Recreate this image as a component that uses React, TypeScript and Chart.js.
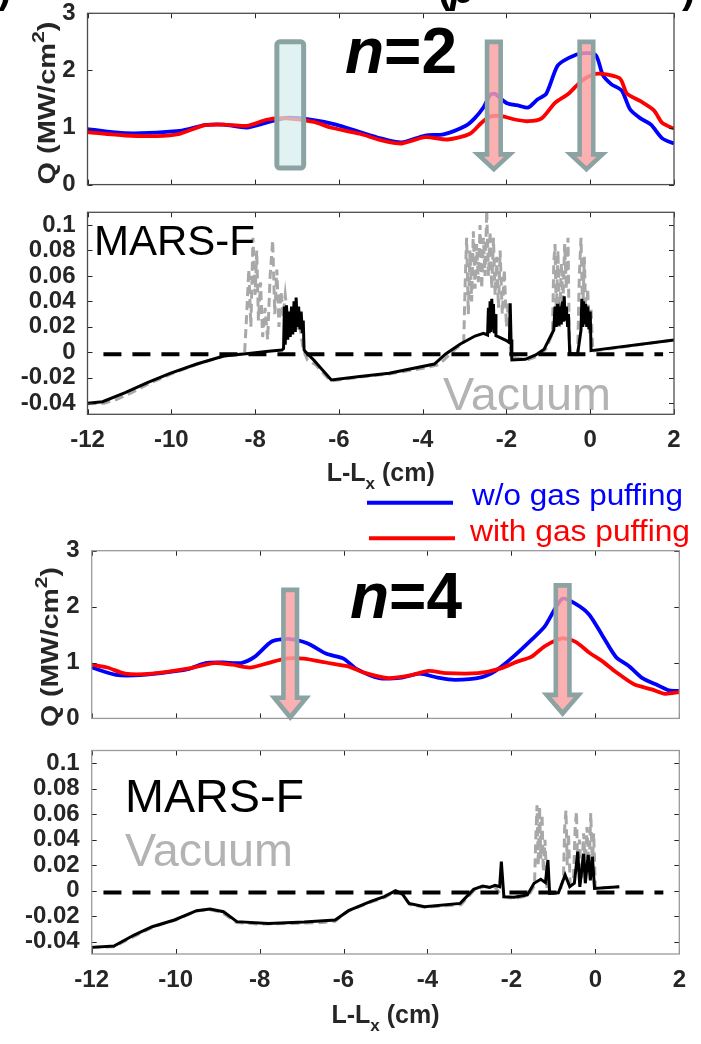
import React, { useEffect, useRef } from "react";
import { Chart, registerables } from "chart.js";
Chart.register(...registerables);

// ---------------- data ----------------
const X_TICKS = [-12, -10, -8, -6, -4, -2, 0, 2];
const Q_TICKS = [0, 1, 2, 3];
const DQ_TICKS = [-0.04, -0.02, 0, 0.02, 0.04, 0.06, 0.08, 0.1];

// n=2, heat flux
const N2_BLUE_X = [-12, -11.1, -9.8, -9.2, -8.75, -8.2, -7.75, -7.25, -6.6, -6.07, -5.5, -5.0, -4.5, -3.94, -3.5, -2.97, -2.76, -2.55, -2.39, -2.28, -2.0, -1.69, -1.48, -1.26, -1.05, -0.78, -0.51, -0.2, 0.13, 0.3, 0.5, 0.75, 0.95, 1.2, 1.45, 1.72, 2.0];
const N2_BLUE_Y = [0.97, 0.9, 0.94, 1.04, 1.05, 1.0, 1.08, 1.17, 1.13, 1.05, 0.92, 0.81, 0.74, 0.86, 0.88, 1.03, 1.16, 1.35, 1.57, 1.59, 1.43, 1.38, 1.35, 1.49, 1.59, 2.08, 2.22, 2.3, 2.27, 1.92, 1.76, 1.65, 1.32, 1.16, 1.05, 0.81, 0.72];
const N2_RED_X = [-12, -11.1, -10.35, -9.8, -9.2, -8.75, -8.2, -7.7, -7.25, -6.6, -6.2, -5.5, -5.0, -4.5, -3.94, -3.4, -2.87, -2.6, -2.39, -2.12, -1.8, -1.48, -1.16, -0.84, -0.52, -0.2, 0.13, 0.45, 0.72, 0.88, 1.2, 1.52, 1.72, 2.0];
const N2_RED_Y = [0.92, 0.86, 0.85, 0.89, 1.04, 1.05, 1.03, 1.14, 1.16, 1.1, 1.0, 0.89, 0.78, 0.72, 0.83, 0.79, 0.89, 1.08, 1.19, 1.2, 1.14, 1.11, 1.16, 1.43, 1.59, 1.82, 1.94, 1.92, 1.85, 1.59, 1.46, 1.3, 1.08, 0.98];

// n=2, MARS-F and vacuum
const N2_MARS_X = [-12, -11.64, -11.1, -10.57, -10.03, -9.39, -8.75, -8.1, -7.68, -7.36, -7.32, -7.3, -7.28, -7.25, -7.22, -7.19, -7.16, -7.13, -7.1, -7.07, -7.04, -7.02, -6.99, -6.96, -6.93, -6.9, -6.87, -6.85, -6.83, -6.8, -6.6, -6.18, -5.5, -4.8, -3.72, -3.45, -3.1, -2.75, -2.55, -2.45, -2.43, -2.41, -2.39, -2.37, -2.35, -2.33, -2.31, -2.29, -2.27, -2.25, -2.2, -2.0, -1.93, -1.91, -1.89, -1.87, -1.55, -1.3, -1.1, -0.87, -0.84, -0.81, -0.78, -0.75, -0.72, -0.69, -0.66, -0.64, -0.62, -0.6, -0.57, -0.54, -0.52, -0.49, -0.3, -0.22, -0.2, -0.18, -0.16, -0.13, -0.11, -0.08, -0.06, -0.03, 0.0, 0.02, 2.0];
const N2_MARS_Y = [-0.04, -0.0388, -0.0317, -0.0238, -0.0165, -0.0092, -0.0029, -0.0008, 0.0008, 0.0018, 0.003, 0.036, 0.006, 0.037, 0.01, 0.032, 0.012, 0.036, 0.014, 0.04, 0.016, 0.043, 0.02, 0.036, 0.018, 0.032, 0.015, 0.025, 0.002, 0.0005, -0.006, -0.0217, -0.019, -0.0165, -0.0092, -0.0013, 0.0065, 0.0128, 0.0149, 0.0136, 0.035, 0.015, 0.04, 0.016, 0.042, 0.018, 0.038, 0.015, 0.03, 0.013, 0.0123, 0.0092, 0.0076, 0.0385, 0.01, -0.006, -0.0055, -0.0021, 0.0024, 0.0175, 0.036, 0.02, 0.038, 0.021, 0.03, 0.022, 0.04, 0.024, 0.044, 0.025, 0.036, 0.02, 0.03, -0.001, -0.0013, 0.0175, 0.042, 0.02, 0.04, 0.022, 0.038, 0.02, 0.036, 0.018, 0.032, 0.0013, 0.0097];
const N2_VAC_X = [-12, -11.6, -11.3, -10.9, -10.5, -10.0, -9.4, -8.75, -8.25, -8.2, -8.15, -8.1, -8.05, -8.0, -7.96, -7.92, -7.87, -7.82, -7.76, -7.7, -7.64, -7.58, -7.53, -7.48, -7.43, -7.38, -7.33, -7.28, -7.2, -7.12, -7.05, -6.95, -6.85, -6.75, -6.55, -6.2, -5.5, -4.8, -3.9, -3.6, -3.4, -3.2, -3.02, -2.98, -2.95, -2.91, -2.87, -2.83, -2.79, -2.75, -2.71, -2.67, -2.63, -2.59, -2.55, -2.51, -2.47, -2.43, -2.39, -2.35, -2.31, -2.27, -2.23, -2.19, -2.15, -2.1, -2.05, -2.0, -1.95, -1.9, -1.5, -1.25, -1.05, -0.9, -0.87, -0.84, -0.81, -0.77, -0.73, -0.69, -0.65, -0.61, -0.57, -0.53, -0.5, -0.46, -0.3, -0.26, -0.22, -0.18, -0.14, -0.1, -0.06, -0.02, 0.02, 0.06, 2.0];
const N2_VAC_Y = [-0.0405, -0.04, -0.037, -0.031, -0.024, -0.017, -0.0095, -0.003, -0.001, 0.03, 0.065, 0.02, 0.09, 0.045, 0.08, 0.025, 0.055, 0.012, 0.035, 0.01, 0.06, 0.088, 0.03, 0.065, 0.02, 0.048, 0.028, 0.045, 0.02, 0.035, 0.015, 0.025, 0.002, -0.006, -0.01, -0.0225, -0.0195, -0.017, -0.012, -0.0095, -0.003, 0.003, 0.008, 0.06, 0.09, 0.03, 0.08, 0.04, 0.095, 0.05, 0.085, 0.055, 0.1, 0.05, 0.09, 0.06, 0.112, 0.06, 0.095, 0.05, 0.09, 0.045, 0.075, 0.035, 0.08, 0.03, 0.065, 0.02, 0.04, -0.004, -0.006, -0.003, 0.003, 0.015, 0.07, 0.085, 0.03, 0.08, 0.02, 0.07, 0.04, 0.085, 0.05, 0.09, 0.01, -0.002, -0.002, 0.06, 0.09, 0.03, 0.075, 0.02, 0.05, 0.015, 0.035, 0.001, 0.0097];

// n=4, heat flux
const N4_BLUE_X = [-12, -11.42, -10.99, -10.35, -9.71, -9.29, -8.87, -8.44, -8.12, -7.7, -7.27, -6.85, -6.42, -6.0, -5.68, -5.15, -4.61, -4.19, -3.76, -3.34, -2.7, -2.38, -1.96, -1.53, -1.21, -0.79, -0.47, -0.15, 0.17, 0.49, 0.81, 1.12, 1.44, 1.76, 2.0];
const N4_BLUE_Y = [0.91, 0.78, 0.77, 0.81, 0.88, 0.99, 1.0, 0.99, 1.1, 1.38, 1.42, 1.34, 1.16, 1.07, 0.88, 0.72, 0.73, 0.8, 0.73, 0.69, 0.74, 0.85, 1.1, 1.4, 1.64, 2.14, 2.05, 1.86, 1.48, 1.1, 0.93, 0.72, 0.61, 0.5, 0.49];
const N4_RED_X = [-12, -11.63, -11.2, -10.57, -9.71, -9.08, -8.65, -8.23, -7.8, -7.38, -6.95, -6.42, -5.89, -5.47, -4.93, -4.4, -3.97, -3.55, -2.8, -2.27, -1.85, -1.53, -1.21, -0.79, -0.47, -0.15, 0.17, 0.49, 0.92, 1.34, 1.66, 2.0];
const N4_RED_Y = [0.96, 0.91, 0.8, 0.8, 0.89, 0.99, 0.96, 0.91, 0.99, 1.07, 1.07, 1.0, 0.93, 0.81, 0.72, 0.77, 0.85, 0.81, 0.81, 0.89, 1.02, 1.1, 1.29, 1.43, 1.37, 1.18, 1.02, 0.83, 0.61, 0.52, 0.44, 0.47];

// n=4, MARS-F and vacuum
const N4_MARS_X = [-12, -11.47, -10.99, -10.56, -10.03, -9.5, -9.18, -8.86, -8.54, -7.79, -6.94, -6.2, -5.88, -5.35, -5.03, -4.76, -4.6, -4.44, -4.07, -3.22, -2.9, -2.68, -2.52, -2.39, -2.28, -2.24, -2.18, -1.94, -1.62, -1.46, -1.3, -1.19, -1.13, -1.09, -0.88, -0.72, -0.61, -0.5, -0.42, -0.37, -0.28, -0.24, -0.17, -0.12, -0.07, -0.02, 0.57];
const N4_MARS_Y = [-0.0445, -0.0435, -0.0348, -0.0283, -0.023, -0.0157, -0.0144, -0.0165, -0.0243, -0.0257, -0.0246, -0.023, -0.0157, -0.0084, -0.0047, 0.0, -0.0026, -0.01, -0.0126, -0.01, 0.001, 0.0037, 0.0026, 0.0042, 0.0031, 0.0228, -0.0047, -0.0052, -0.0034, 0.0058, 0.0089, 0.0063, 0.0241, -0.0021, -0.0016, 0.0123, 0.0031, 0.0058, 0.0306, 0.003, 0.029, 0.0058, 0.028, 0.008, 0.0267, 0.0018, 0.003];
const N4_VAC_X = [-12, -11.47, -11.0, -10.5, -10.0, -9.5, -9.2, -8.9, -8.55, -8.0, -7.0, -6.5, -6.2, -5.9, -5.35, -5.0, -4.78, -4.6, -4.42, -4.05, -3.2, -2.9, -2.68, -2.4, -2.2, -1.9, -1.6, -1.45, -1.42, -1.39, -1.36, -1.33, -1.3, -1.27, -1.24, -1.2, -1.15, -1.0, -0.85, -0.76, -0.73, -0.7, -0.67, -0.64, -0.6, -0.52, -0.48, -0.45, -0.42, -0.38, -0.33, -0.28, -0.24, -0.2, -0.15, -0.11, -0.07, -0.04, 0.0, 0.57];
const N4_VAC_Y = [-0.0445, -0.044, -0.036, -0.028, -0.023, -0.016, -0.0148, -0.017, -0.025, -0.0262, -0.0255, -0.025, -0.024, -0.016, -0.009, -0.005, -0.0005, -0.003, -0.011, -0.013, -0.011, 0.0, 0.003, 0.003, -0.005, -0.006, -0.004, 0.004, 0.04, 0.067, 0.02, 0.066, 0.025, 0.06, 0.015, 0.04, 0.0, -0.002, -0.001, 0.01, 0.05, 0.063, 0.02, 0.045, 0.005, 0.01, 0.05, 0.062, 0.015, 0.04, 0.01, 0.045, 0.02, 0.05, 0.015, 0.061, 0.02, 0.045, 0.002, 0.003];

// zero reference line (dashed)
const N2_ZERO_X = [-11.62, 1.74];
const N4_ZERO_X = [-11.72, 1.62];
const ZERO_Y = -0.0015;

// annotations (data coordinates)
const N2_ARROW_X = [-2.3, -0.09];
const N2_ARROW_TOP = [2.5, 2.5];
const N2_ARROW_HEAD = [0.53, 0.53];
const N2_ARROW_TIP = [0.27, 0.27];
const N2_BOX = [-7.48, -6.84, 0.29, 2.5];
const N4_ARROW_X = [-7.27, -0.78];
const N4_ARROW_TOP = [2.3, 2.38];
const N4_ARROW_HEAD = [0.37, 0.42];
const N4_ARROW_TIP = [0.02, 0.09];

// ---------------- helpers ----------------
const FAM = "'Liberation Sans', Arial, sans-serif";
const AXIS_COLOR = "#262626";
const W = 701;

const pts = (xs: number[], ys: number[]) => xs.map((x, i) => ({ x, y: ys[i] }));

function qSets(bx: number[], by: number[], rx: number[], ry: number[]) {
  return [
    { data: pts(rx, ry), borderColor: "#ff0000", borderWidth: 3.8, pointRadius: 0, tension: 0.25 },
    { data: pts(bx, by), borderColor: "#0000ff", borderWidth: 3.8, pointRadius: 0, tension: 0.25 },
  ];
}
function dqSets(mx: number[], my: number[], vx: number[], vy: number[], zx: number[]) {
  return [
    { data: pts(zx, [ZERO_Y, ZERO_Y]), borderColor: "#000000", borderWidth: 4, borderDash: [18, 11], pointRadius: 0 },
    { data: pts(mx, my), borderColor: "#000000", borderWidth: 3, pointRadius: 0, tension: 0 },
    { data: pts(vx, vy), borderColor: "#a8a8a8", borderWidth: 3, borderDash: [9, 5], pointRadius: 0, tension: 0 },
  ];
}

function text(ctx: CanvasRenderingContext2D, s: string, x: number, y: number, font: string, color: string, width?: number) {
  ctx.save();
  ctx.font = font;
  ctx.fillStyle = color;
  ctx.textAlign = "left";
  ctx.textBaseline = "alphabetic";
  const w = ctx.measureText(s).width;
  ctx.translate(x, y);
  if (width) ctx.scale(width / w, 1);
  ctx.fillText(s, 0, 0);
  ctx.restore();
}

function nLabel(ctx: CanvasRenderingContext2D, rest: string, x: number, y: number) {
  ctx.save();
  ctx.fillStyle = "#000";
  ctx.textBaseline = "alphabetic";
  ctx.font = `italic bold 64px ${FAM}`;
  ctx.fillText("n", x, y);
  const w = ctx.measureText("n").width;
  ctx.font = `bold 64px ${FAM}`;
  ctx.fillText(rest, x + w, y);
  ctx.restore();
}

// rotated y-axis title "Q (MW/cm^2)" stretched to a given length
function yTitle(ctx: CanvasRenderingContext2D, cx: number, cy: number, len: number) {
  ctx.save();
  ctx.fillStyle = AXIS_COLOR;
  ctx.textBaseline = "alphabetic";
  const big = `bold 23px ${FAM}`;
  const sup = `bold 17px ${FAM}`;
  ctx.font = big;
  const a = ctx.measureText("Q (MW/cm").width;
  const c = ctx.measureText(")").width;
  ctx.font = sup;
  const b = ctx.measureText("2").width;
  const total = a + b + c;
  ctx.translate(cx, cy);
  ctx.rotate(-Math.PI / 2);
  ctx.scale(len / total, 1);
  let x = -total / 2;
  ctx.font = big;
  ctx.fillText("Q (MW/cm", x, 8);
  x += a;
  ctx.font = sup;
  ctx.fillText("2", x, -3);
  x += b;
  ctx.font = big;
  ctx.fillText(")", x, 8);
  ctx.restore();
}

function xTitle(ctx: CanvasRenderingContext2D, cx: number, y: number) {
  ctx.save();
  ctx.fillStyle = AXIS_COLOR;
  ctx.textBaseline = "alphabetic";
  const big = `bold 25px ${FAM}`;
  const small = `bold 17px ${FAM}`;
  ctx.font = big;
  const w1 = ctx.measureText("L-L").width;
  const w3 = ctx.measureText(" (cm)").width;
  ctx.font = small;
  const w2 = ctx.measureText("x").width;
  let x = cx - (w1 + w2 + w3) / 2;
  ctx.font = big;
  ctx.fillText("L-L", x, y);
  x += w1;
  ctx.font = small;
  ctx.fillText("x", x, y + 8);
  x += w2;
  ctx.font = big;
  ctx.fillText(" (cm)", x, y);
  ctx.restore();
}

function arrow(ctx: CanvasRenderingContext2D, cx: number, yTop: number, yHead: number, yTip: number) {
  const s = 6.8;
  const h = 16;
  ctx.save();
  ctx.beginPath();
  ctx.moveTo(cx - s, yTop);
  ctx.lineTo(cx + s, yTop);
  ctx.lineTo(cx + s, yHead);
  ctx.lineTo(cx + h, yHead);
  ctx.lineTo(cx, yTip);
  ctx.lineTo(cx - h, yHead);
  ctx.lineTo(cx - s, yHead);
  ctx.closePath();
  ctx.fillStyle = "rgba(250,160,160,0.82)";
  ctx.fill();
  ctx.lineJoin = "miter";
  ctx.lineWidth = 4.6;
  ctx.strokeStyle = "#8ca3a3";
  ctx.stroke();
  ctx.restore();
}

function frame(ctx: CanvasRenderingContext2D, chart: any, yTicks: number[], border: string) {
  const { left, right, top, bottom } = chart.chartArea;
  const xs = chart.scales.x;
  const ys = chart.scales.y;
  ctx.save();
  ctx.strokeStyle = AXIS_COLOR;
  ctx.lineWidth = 1;
  ctx.beginPath();
  X_TICKS.forEach((v) => {
    const p = Math.round(xs.getPixelForValue(v)) + 0.5;
    ctx.moveTo(p, bottom);
    ctx.lineTo(p, bottom - 5);
    ctx.moveTo(p, top);
    ctx.lineTo(p, top + 5);
  });
  yTicks.forEach((v) => {
    const p = Math.round(ys.getPixelForValue(v)) + 0.5;
    ctx.moveTo(left, p);
    ctx.lineTo(left + 5, p);
    ctx.moveTo(right, p);
    ctx.lineTo(right - 5, p);
  });
  ctx.stroke();
  ctx.strokeStyle = border;
  ctx.lineWidth = 1.3;
  ctx.strokeRect(left, top, right - left, bottom - top);
  ctx.restore();
}

type Spec = {
  top: number;
  height: number;
  area: { left: number; right: number; top: number; bottom: number };
  yMin: number;
  yMax: number;
  yTicks: number[];
  xLabels: boolean;
  border: string;
  datasets: any[];
  deco: (ctx: CanvasRenderingContext2D, chart: any, T: number) => void;
};

const fmt = (v: any) => String(Math.round(Number(v) * 100) / 100);

function build(s: Spec) {
  const canvasBottom = s.top + s.height;
  const xAxisH = canvasBottom - s.area.bottom;
  const tickFont = { family: FAM, size: 24, weight: "bold" as const };
  return {
    type: "line" as const,
    data: { datasets: s.datasets },
    options: {
      animation: false as const,
      responsive: false,
      devicePixelRatio: 1,
      layout: {
        padding: {
          left: 0,
          right: W - s.area.right,
          top: s.area.top - s.top,
          bottom: s.xLabels ? 0 : xAxisH,
        },
      },
      plugins: { legend: { display: false }, tooltip: { enabled: false } },
      scales: {
        x: {
          type: "linear" as const,
          min: -12,
          max: 2,
          display: s.xLabels,
          afterBuildTicks: (sc: any) => {
            sc.ticks = X_TICKS.map((v) => ({ value: v }));
          },
          afterFit: (sc: any) => {
            sc.height = xAxisH;
            sc.paddingLeft = 0;
            sc.paddingRight = 0;
          },
          grid: { display: false, drawTicks: false },
          border: { display: false },
          ticks: { font: tickFont, color: AXIS_COLOR, padding: 12, maxRotation: 0, autoSkip: false, callback: (v: any) => String(v) },
        },
        y: {
          type: "linear" as const,
          min: s.yMin,
          max: s.yMax,
          afterBuildTicks: (sc: any) => {
            sc.ticks = s.yTicks.map((v) => ({ value: v }));
          },
          afterFit: (sc: any) => {
            sc.width = s.area.left;
            sc.paddingTop = 0;
            sc.paddingBottom = 0;
          },
          grid: { display: false, drawTicks: false },
          border: { display: false },
          ticks: { font: tickFont, color: AXIS_COLOR, padding: 12, autoSkip: false, callback: fmt },
        },
      },
    },
    plugins: [
      {
        id: "panelDeco",
        afterDraw(chart: any) {
          const ctx = chart.ctx as CanvasRenderingContext2D;
          s.deco(ctx, chart, s.top);
          frame(ctx, chart, s.yTicks, s.border);
        },
      },
    ],
  };
}

const GRAY_TXT = "#b3b3b3";

const SPECS: Spec[] = [
  {
    top: 0,
    height: 210,
    area: { left: 87.5, right: 674, top: 13.3, bottom: 197.3 },
    yMin: 0,
    yMax: 3,
    yTicks: Q_TICKS,
    xLabels: false,
    border: "#4d4d4d",
    datasets: qSets(N2_BLUE_X, N2_BLUE_Y, N2_RED_X, N2_RED_Y),
    deco: (ctx, chart, T) => {
      const xs = chart.scales.x;
      const ys = chart.scales.y;
      const x0 = xs.getPixelForValue(N2_BOX[0]);
      const x1 = xs.getPixelForValue(N2_BOX[1]);
      const y0 = ys.getPixelForValue(N2_BOX[3]);
      const y1 = ys.getPixelForValue(N2_BOX[2]);
      ctx.save();
      ctx.beginPath();
      (ctx as any).roundRect(x0, y0, x1 - x0, y1 - y0, 3);
      ctx.fillStyle = "rgba(214,237,237,0.72)";
      ctx.fill();
      ctx.lineWidth = 5;
      ctx.strokeStyle = "#8ca3a3";
      ctx.stroke();
      ctx.restore();
      N2_ARROW_X.forEach((x, i) =>
        arrow(ctx, xs.getPixelForValue(x), ys.getPixelForValue(N2_ARROW_TOP[i]), ys.getPixelForValue(N2_ARROW_HEAD[i]), ys.getPixelForValue(N2_ARROW_TIP[i]))
      );
      nLabel(ctx, "=2", 345, 73 - T);
      yTitle(ctx, 46.5, 103 - T, 163);
      text(ctx, ")", -2, 3 - T, `bold 40px ${FAM}`, "#000");
      text(ctx, "(", 438, 3 - T, `bold 40px ${FAM}`, "#000");
      text(ctx, "p", 450, 3 - T, `italic bold 40px ${FAM}`, "#000");
      text(ctx, ")", 682, 3 - T, `bold 40px ${FAM}`, "#000");
    },
  },
  {
    top: 205,
    height: 345,
    area: { left: 87.5, right: 674, top: 212.3, bottom: 414.3 },
    yMin: -0.0487,
    yMax: 0.11,
    yTicks: DQ_TICKS,
    xLabels: true,
    border: "#4d4d4d",
    datasets: dqSets(N2_MARS_X, N2_MARS_Y, N2_VAC_X, N2_VAC_Y, N2_ZERO_X),
    deco: (ctx, chart, T) => {
      text(ctx, "MARS-F", 94, 255 - T, `42px ${FAM}`, "#000", 161);
      text(ctx, "Vacuum", 443, 410 - T, `46px ${FAM}`, GRAY_TXT, 168);
      xTitle(ctx, 380.7, 481 - T);
      ctx.save();
      ctx.lineWidth = 4;
      ctx.strokeStyle = "#0000ff";
      ctx.beginPath();
      ctx.moveTo(367, 502.7 - T);
      ctx.lineTo(453, 502.7 - T);
      ctx.stroke();
      ctx.strokeStyle = "#ff0000";
      ctx.beginPath();
      ctx.moveTo(369, 538.3 - T);
      ctx.lineTo(455, 538.3 - T);
      ctx.stroke();
      ctx.restore();
      text(ctx, "w/o gas puffing", 472, 505 - T, `29px ${FAM}`, "#0000ff", 211);
      text(ctx, "with gas puffing", 470, 541 - T, `29px ${FAM}`, "#ff0000", 220);
    },
  },
  {
    top: 528,
    height: 225,
    area: { left: 91.7, right: 679.3, top: 550.7, bottom: 735.7 },
    yMin: 0,
    yMax: 3,
    yTicks: Q_TICKS,
    xLabels: false,
    border: "#9a9a9a",
    datasets: qSets(N4_BLUE_X, N4_BLUE_Y, N4_RED_X, N4_RED_Y),
    deco: (ctx, chart, T) => {
      const xs = chart.scales.x;
      const ys = chart.scales.y;
      N4_ARROW_X.forEach((x, i) =>
        arrow(ctx, xs.getPixelForValue(x), ys.getPixelForValue(N4_ARROW_TOP[i]), ys.getPixelForValue(N4_ARROW_HEAD[i]), ys.getPixelForValue(N4_ARROW_TIP[i]))
      );
      nLabel(ctx, "=4", 350, 618 - T);
      yTitle(ctx, 49.5, 647 - T, 160);
    },
  },
  {
    top: 745,
    height: 299,
    area: { left: 91.7, right: 679.3, top: 750.5, bottom: 954 },
    yMin: -0.0497,
    yMax: 0.11,
    yTicks: DQ_TICKS,
    xLabels: true,
    border: "#9a9a9a",
    datasets: dqSets(N4_MARS_X, N4_MARS_Y, N4_VAC_X, N4_VAC_Y, N4_ZERO_X),
    deco: (ctx, chart, T) => {
      text(ctx, "MARS-F", 125, 812 - T, `46px ${FAM}`, "#000", 179);
      text(ctx, "Vacuum", 125, 866 - T, `46px ${FAM}`, GRAY_TXT, 168);
      xTitle(ctx, 385.5, 1023 - T);
    },
  },
];

function Panel({ spec }: { spec: Spec }) {
  const ref = useRef<HTMLCanvasElement>(null);
  useEffect(() => {
    if (!ref.current) return;
    const chart = new Chart(ref.current, build(spec) as any);
    return () => chart.destroy();
  }, [spec]);
  return (
    <canvas
      ref={ref}
      width={W}
      height={spec.height}
      style={{ position: "absolute", left: 0, top: spec.top, width: W, height: spec.height }}
    />
  );
}

export default function App() {
  return (
    <div style={{ position: "absolute", left: 0, top: 0, width: W, height: 1044, background: "#fff", overflow: "hidden" }}>
      {SPECS.map((s, i) => (
        <Panel key={i} spec={s} />
      ))}
    </div>
  );
}
